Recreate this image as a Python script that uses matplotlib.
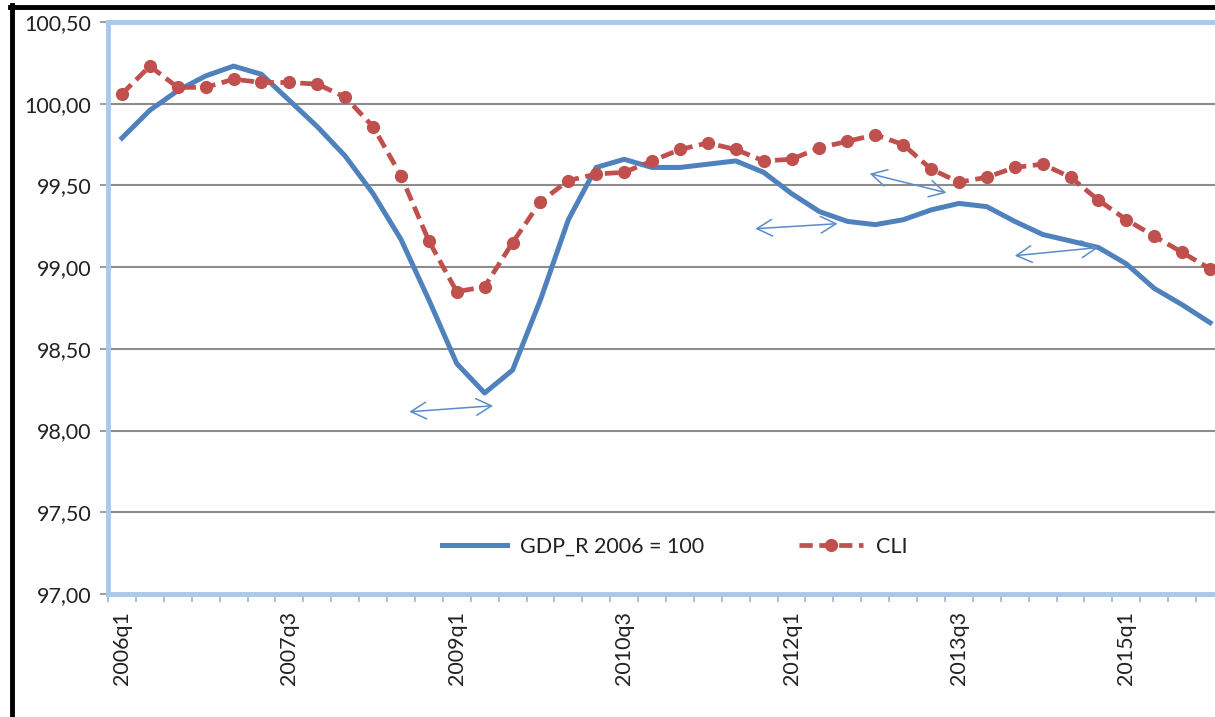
import matplotlib
matplotlib.use("Agg")
import matplotlib.pyplot as plt
from matplotlib.lines import Line2D

plt.rcParams['font.family'] = ['Lato', 'DejaVu Sans']

quarters = [f"{y}q{q}" for y in range(2006, 2016) for q in range(1, 5)]

gdp = [99.79, 99.96, 100.08, 100.17, 100.23, 100.18, 100.02, 99.86, 99.68, 99.45,
       99.17, 98.80, 98.41, 98.23, 98.37, 98.80, 99.29, 99.61, 99.66, 99.61,
       99.61, 99.63, 99.65, 99.58, 99.45, 99.34, 99.28, 99.26, 99.29, 99.35,
       99.39, 99.37, 99.28, 99.20, 99.16, 99.12, 99.02, 98.87, 98.77, 98.66]

cli = [100.06, 100.23, 100.10, 100.10, 100.15, 100.13, 100.13, 100.12, 100.04, 99.86,
       99.56, 99.16, 98.85, 98.88, 99.15, 99.40, 99.53, 99.57, 99.58, 99.65,
       99.72, 99.76, 99.72, 99.65, 99.66, 99.73, 99.77, 99.81, 99.75, 99.60,
       99.52, 99.55, 99.61, 99.63, 99.55, 99.41, 99.29, 99.19, 99.09, 98.99]

label_every = 6
y_ticks = [97.0, 97.5, 98.0, 98.5, 99.0, 99.5, 100.0, 100.5]

# lag arrows: (x_start, y_start, x_end, y_end) in data units
arrows = [(10.3, 98.115, 13.3, 98.152),
          (22.7, 99.235, 25.65, 99.266),
          (26.8, 99.572, 29.55, 99.455),
          (32.0, 99.070, 35.0, 99.120)]

W, H = 1215, 717
fig = plt.figure(figsize=(W / 100, H / 100), dpi=100)
fig.patch.set_facecolor('white')
ax = fig.add_axes([108 / W, 1 - 594 / H, (1224 - 108) / W, (594 - 22) / H])

x = list(range(len(quarters)))
ax.plot(x, gdp, color='#4F81BD', lw=3.6, solid_joinstyle='round', zorder=3,
        label='GDP_R 2006 = 100')
ax.plot(x, cli, color='#C0504D', lw=3.4, ls=(0, (2.8, 1.4)), marker='o',
        markersize=8.5, markeredgecolor='#C0504D', markerfacecolor='#C0504D',
        zorder=4, label='CLI')

ax.set_xlim(-0.5, len(quarters) - 0.5)
ax.set_ylim(97.0, 100.5)
ax.set_yticks(y_ticks)
ax.set_yticklabels([f"{v:.2f}".replace('.', ',') for v in y_ticks], fontsize=15.5,
                   color='#222222')
ax.yaxis.grid(True, color='#8C8C8C', lw=1.5, zorder=0)
ax.set_axisbelow(True)

ax.set_xticks([i + 0.5 for i in range(-1, len(quarters))], minor=False)
ax.set_xticklabels([])
ax.set_xticks(x[::label_every], minor=True)
ax.set_xticklabels(quarters[::label_every], minor=True, rotation=90, fontsize=15.5,
                   color='#222222')
ax.tick_params(axis='x', which='major', length=6, width=1.2, color='#9DB5D6',
               direction='out')
ax.tick_params(axis='x', which='minor', length=0, pad=12)
ax.tick_params(axis='y', length=6, width=1.2, color='#8C8C8C', pad=6)

for s in ['left', 'top', 'bottom']:
    ax.spines[s].set_color('#A9C8EC')
    ax.spines[s].set_linewidth(3.5)
ax.spines['right'].set_visible(False)

for (x0, y0, x1, y1) in arrows:
    ax.annotate('', xy=(x1, y1), xytext=(x0, y0),
                arrowprops=dict(arrowstyle='<->,head_length=1.1,head_width=0.6',
                                color='#5B8CC8', lw=1.1, shrinkA=0, shrinkB=0),
                zorder=5)

leg = ax.legend(loc='center', bbox_to_anchor=((675 - 108) / (1224 - 108), (594 - 547) / (594 - 22)),
                ncol=2, frameon=False, fontsize=15.5, handlelength=3.0,
                handletextpad=0.6, columnspacing=4.4)
for t in leg.get_texts():
    t.set_color('#222222')

# black screenshot frame lines (left and top)
fig.add_artist(Line2D([12 / W, 12 / W], [0, 1 - 5 / H], transform=fig.transFigure,
                      color='black', lw=3.5))
fig.add_artist(Line2D([10 / W, 1], [1 - 6.5 / H, 1 - 6.5 / H], transform=fig.transFigure,
                      color='black', lw=3.5))

fig.savefig('out.png', dpi=100, facecolor='white')
